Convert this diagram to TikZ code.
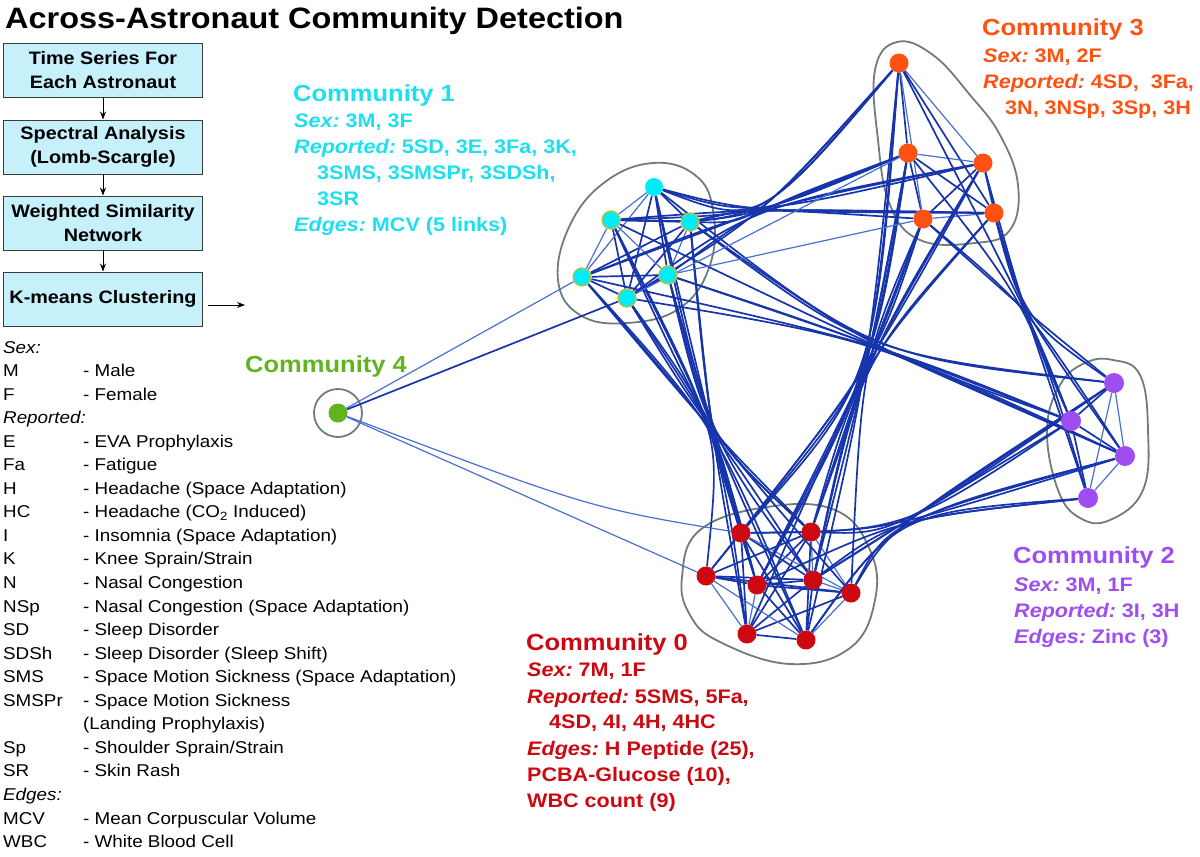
\documentclass[tikz,border=0pt]{standalone}
\usepackage{fontspec}
\setmainfont{Liberation Sans}[FakeStretch=1.1]
\usetikzlibrary{backgrounds,arrows.meta,calc}
\definecolor{boxfill}{RGB}{198,240,250}
\definecolor{boxborder}{RGB}{60,60,60}
\definecolor{ccyan}{RGB}{28,224,240}
\definecolor{cnodefill}{RGB}{0,236,248}
\definecolor{cborder}{RGB}{196,190,50}
\definecolor{corange}{RGB}{255,82,18}
\definecolor{cpurple}{RGB}{158,78,240}
\definecolor{cred}{RGB}{204,8,16}
\definecolor{cgreen}{RGB}{98,180,30}
\definecolor{eblue}{RGB}{22,52,172}
\definecolor{lblue}{RGB}{72,112,205}
\definecolor{hullgray}{RGB}{112,124,124}
\newcommand{\myTitleFont}{\fontsize{29.5}{34}\selectfont\bfseries}
\newcommand{\myBoxFont}{\fontsize{18}{24}\selectfont\bfseries}
\newcommand{\myLegFont}{\fontsize{17.1}{20}\selectfont}
\newcommand{\myComFont}{\fontsize{23.2}{28}\selectfont\bfseries}
\newcommand{\myInfoFont}{\fontsize{19.6}{24}\selectfont\bfseries}
\newcommand{\myLabFont}{\fontsize{19.6}{24}\selectfont\bfseries\itshape}
\newcommand{\legrow}[3]{%
  \node[legtext] (la#1) at (3,{353+23.55*#1}) {#2};
  \node[legtext] (lb#1) at (83,{353+23.55*#1}) {#3};}
% label + value line: name, x, y, label, value
\newcommand{\infoline}[5]{%
  \node[labtext] (#1) at (#2,#3) {#4};
  \node[info] (#1v) at ([xshift=5.5pt]#1.base east) {#5};}
% bundled edge: style, from, to, waist
\newcommand{\bund}[4]{%
  \path ($(#2)!0.5!(#3)$) coordinate (mm);
  \path ($(#4)!-0.2!(mm)$) coordinate (kk);
  \draw[#1] (#2) .. controls (kk) and (kk) .. (#3);}
\begin{document}
\begin{tikzpicture}[x=1pt,y=-1pt,
  every node/.style={inner sep=0pt},
  fbox/.style={draw=boxborder, fill=boxfill, line width=0.9pt, minimum width=199pt, minimum height=54pt, align=center, font=\myBoxFont},
  flowarrow/.style={draw=black, line width=0.8pt, -{Stealth[length=8pt,width=6pt]}},
  legtext/.style={anchor=base west, font=\myLegFont},
  comtitle/.style={anchor=base west, font=\myComFont},
  info/.style={anchor=base west, font=\myInfoFont},
  labtext/.style={anchor=base west, font=\myLabFont},
  dk/.style={draw=eblue, line width=1.7pt},
  lt/.style={draw=lblue, line width=1.2pt},
  hull/.style={draw=hullgray, line width=1.8pt},
  cnode/.style={circle, fill=cnodefill, draw=cborder, line width=1.3pt, minimum size=18pt},
  cnodeplain/.style={circle, fill=cnodefill, minimum size=18pt},
  onode/.style={circle, fill=corange, minimum size=19pt},
  pnode/.style={circle, fill=cpurple, minimum size=20pt},
  rnode/.style={circle, fill=cred, minimum size=19pt},
  gnode/.style={circle, fill=cgreen, minimum size=19pt}]
\useasboundingbox (0,0) rectangle (1200,857);

% title
\node[anchor=base west, font=\myTitleFont] (title) at (5,28) {Across-Astronaut Community Detection};

% flowchart
\node[fbox] (b1) at (103,70) {Time Series For\\Each Astronaut};
\node[fbox] (b2) at (103,147) {Spectral Analysis\\(Lomb-Scargle)};
\node[fbox] (b3) at (103,223) {Weighted Similarity\\Network};
\node[fbox] (b4) at (103,299) {K-means Clustering};
\coordinate (kout) at (245,305);
\draw[flowarrow] (b1.south) -- (b2.north);
\draw[flowarrow] (b2.south) -- (b3.north);
\draw[flowarrow] (b3.south) -- (b4.north);
\draw[flowarrow] ([xshift=5pt,yshift=-6pt]b4.east) -- (kout);

% legend
\legrow{0}{\itshape Sex:}{}
\legrow{1}{M}{- Male}
\legrow{2}{F}{- Female}
\legrow{3}{\itshape Reported:}{}
\legrow{4}{E}{- EVA Prophylaxis}
\legrow{5}{Fa}{- Fatigue}
\legrow{6}{H}{- Headache (Space Adaptation)}
\legrow{7}{HC}{- Headache (CO\textsubscript{2} Induced)}
\legrow{8}{I}{- Insomnia (Space Adaptation)}
\legrow{9}{K}{- Knee Sprain/Strain}
\legrow{10}{N}{- Nasal Congestion}
\legrow{11}{NSp}{- Nasal Congestion (Space Adaptation)}
\legrow{12}{SD}{- Sleep Disorder}
\legrow{13}{SDSh}{- Sleep Disorder (Sleep Shift)}
\legrow{14}{SMS}{- Space Motion Sickness (Space Adaptation)}
\legrow{15}{SMSPr}{- Space Motion Sickness}
\legrow{16}{}{(Landing Prophylaxis)}
\legrow{17}{Sp}{- Shoulder Sprain/Strain}
\legrow{18}{SR}{- Skin Rash}
\legrow{19}{\itshape Edges:}{}
\legrow{20}{MCV}{- Mean Corpuscular Volume}
\legrow{21}{WBC}{- White Blood Cell}

% community labels
\begin{scope}[text=ccyan]
\node[comtitle] (t1) at (293,101) {Community 1};
\infoline{t1a}{294}{127}{Sex:}{3M, 3F}
\infoline{t1b}{294}{153}{Reported:}{5SD, 3E, 3Fa, 3K,}
\node[info] (t1c) at (317,179) {3SMS, 3SMSPr, 3SDSh,};
\node[info] (t1d) at (317,205) {3SR};
\infoline{t1e}{294}{231}{Edges:}{MCV (5 links)}
\end{scope}
\begin{scope}[text=corange]
\node[comtitle] (t3) at (982,35) {Community 3};
\infoline{t3a}{983}{62}{Sex:}{3M, 2F}
\infoline{t3b}{983}{88}{Reported:}{4SD,\ \ 3Fa,}
\node[info] (t3c) at (1005,114) {3N, 3NSp, 3Sp, 3H};
\end{scope}
\node[comtitle, text=cgreen] (t4) at (245,372) {Community 4};
\begin{scope}[text=cpurple]
\node[comtitle] (t2) at (1013,563) {Community 2};
\infoline{t2a}{1014}{591}{Sex:}{3M, 1F}
\infoline{t2b}{1014}{617}{Reported:}{3I, 3H}
\infoline{t2c}{1014}{643}{Edges:}{Zinc (3)}
\end{scope}
\begin{scope}[text=cred]
\node[comtitle] (t0) at (526,650) {Community 0};
\infoline{t0a}{527}{676}{Sex:}{7M, 1F}
\infoline{t0b}{527}{703}{Reported:}{5SMS, 5Fa,}
\node[info] (t0c) at (549,728) {4SD, 4I, 4H, 4HC};
\infoline{t0d}{527}{755}{Edges:}{H Peptide (25),}
\node[info] (t0e) at (527,781) {PCBA-Glucose (10),};
\node[info] (t0f) at (527,807) {WBC count (9)};
\end{scope}

% network nodes
\node[cnodeplain] (c1) at (654,187) {};
\node[cnode] (c2) at (611,220) {};
\node[cnode] (c3) at (690,222) {};
\node[cnode] (c4) at (582,277) {};
\node[cnode] (c5) at (668,275) {};
\node[cnode] (c6) at (627,298) {};
\node[onode] (o1) at (899,63) {};
\node[onode] (o2) at (908,153) {};
\node[onode] (o3) at (983,163) {};
\node[onode] (o4) at (923,219) {};
\node[onode] (o5) at (994,213) {};
\node[pnode] (p1) at (1114,383) {};
\node[pnode] (p2) at (1071,421) {};
\node[pnode] (p3) at (1125,456) {};
\node[pnode] (p4) at (1088,498) {};
\node[rnode] (r1) at (741,533) {};
\node[rnode] (r2) at (811,532) {};
\node[rnode] (r3) at (706,576) {};
\node[rnode] (r4) at (757,585) {};
\node[rnode] (r5) at (813,580) {};
\node[rnode] (r6) at (851,593) {};
\node[rnode] (r7) at (747,634) {};
\node[rnode] (r8) at (806,640) {};
\node[gnode] (g) at (338,413) {};

\coordinate (w13) at (762,210);
\coordinate (w10) at (712,430);
\coordinate (w12) at (873,345);
\coordinate (w30) at (866,368);
\coordinate (w32) at (1025,310);
\coordinate (w02) at (905,522);
\coordinate (wg) at (590,508);

\begin{scope}[on background layer]
% hulls
\draw[hull] plot[smooth cycle, tension=0.7] coordinates {(653,163) (695,175) (713,210) (710,265) (680,308) (627,323) (580,315) (558,280) (570,225) (605,182)};
\draw[hull] plot[smooth cycle, tension=0.7] coordinates {(897,42) (933,55) (970,95) (1000,135) (1018,185) (1010,230) (975,243) (920,240) (890,205) (878,140) (875,70)};
\draw[hull] plot[smooth cycle, tension=0.7] coordinates {(1113,360) (1140,375) (1148,430) (1143,490) (1110,520) (1080,518) (1058,490) (1047,430) (1060,385) (1085,363)};
\draw[hull] plot[smooth cycle, tension=0.7] coordinates {(682,577) (700,530) (767,507) (835,510) (870,550) (875,600) (850,648) (790,664) (720,642) (690,615)};
\draw[hull] (338,413) circle[radius=24];

% intra-community edges
\foreach \a/\b in {c1/c3,c1/c5,c1/c6,c2/c3,c2/c6,c3/c4,c3/c6,c4/c5,c4/c6,c5/c6,
  o1/o2,o1/o5,o2/o5,o3/o4,o2/o4,
  p1/p2,p2/p4,p2/p3,
  r1/r2,r1/r3,r1/r5,r1/r7,r1/r8,r2/r3,r2/r4,r2/r7,r2/r8,r3/r4,r3/r5,r3/r6,r4/r5,r4/r6,r4/r8,r5/r7,r5/r8,r6/r7,r7/r8}
  \draw[dk] (\a) -- (\b);
\foreach \a/\b in {c1/c2,c1/c4,c2/c4,c2/c5,c3/c5,
  o1/o3,o1/o4,o2/o3,o3/o5,o4/o5,
  p1/p3,p1/p4,p3/p4,
  r1/r4,r1/r6,r2/r5,r2/r6,r3/r7,r3/r8,r4/r7,r5/r6,r6/r8}
  \draw[lt] (\a) -- (\b);

% bundled inter-community edges
\foreach \a/\b in {c1/o1,c1/o3,c3/o1,c3/o2,c3/o4,c3/o5,c2/o2,c2/o5,c4/o3,c4/o2,c6/o3,c1/o5,c5/o2,c6/o1,c2/o1}
  {\bund{dk}{\a}{\b}{w13}}
\foreach \a/\b in {c1/r1,c1/r5,c2/r2,c2/r4,c3/r1,c3/r7,c4/r2,c4/r5,c5/r4,c5/r8,c6/r1,c6/r6,c2/r7,c4/r8,c5/r2,c6/r3,c3/r4}
  {\bund{dk}{\a}{\b}{w10}}
\foreach \a/\b in {c1/p1,c3/p2,c5/p2,c2/p3,c6/p3,c4/p2,c3/p1,c5/p3}
  {\bund{dk}{\a}{\b}{w12}}
\foreach \a/\b in {o1/r1,o1/r4,o2/r2,o2/r5,o2/r1,o4/r2,o4/r4,o4/r6,o3/r5,o5/r2,o3/r7,o1/r8,o4/r3,o2/r4,o5/r5,o3/r1}
  {\bund{dk}{\a}{\b}{w30}}
\foreach \a/\b in {o3/p1,o3/p2,o5/p2,o5/p3,o2/p4,o1/p2,o4/p3,o4/p1,o5/p4}
  {\bund{dk}{\a}{\b}{w32}}
\foreach \a/\b in {r2/p1,r2/p3,r5/p2,r5/p4,r6/p3,r4/p4,r1/p2,r8/p4,r6/p1,r8/p3,r5/p1}
  {\bund{dk}{\a}{\b}{w02}}
% light long edges
\draw[lt] (c5) -- (o4);
\draw[lt] (c6) -- (o2);
% community 4 edges
\draw[lt] (g) -- (c4);
\draw[dk] (g) -- (c6);
\draw[lt] (g) .. controls (wg) .. (r1);
\draw[lt] (g) -- (r3);
\end{scope}
\end{tikzpicture}
\end{document}
